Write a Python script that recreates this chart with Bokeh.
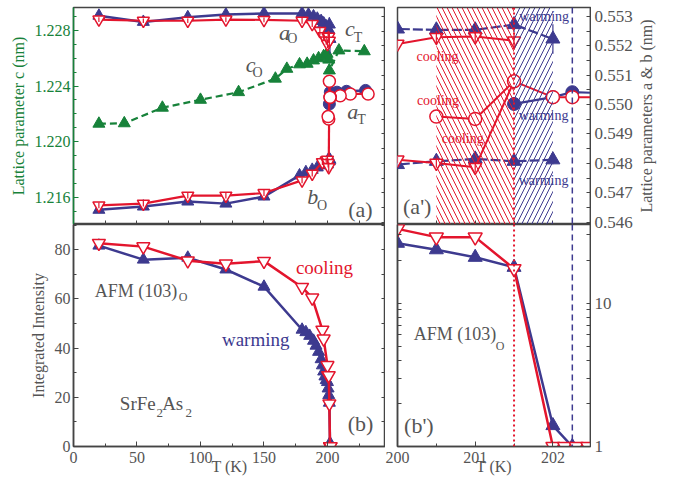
import numpy as np
from bokeh.plotting import figure
from bokeh.layouts import column, row
from bokeh.models import (Range1d, LinearAxis, LogAxis, FixedTicker, PrintfTickFormatter,
                          CustomJSTickFormatter, Label, Span, BoxAnnotation)
from bokeh.embed import file_html
from bokeh.resources import INLINE

FONT = "Liberation Serif"
BLUE = "#3d3a8f"
RED = "#e3152d"
GREEN = "#17823a"
GRAY = "#555555"
FRAME = "#444444"

# ---------------- data: lattice parameters ----------------
# c axis (green, warming)
T_c = [20, 40, 70, 100, 130, 159, 168, 178, 184, 189, 193, 197, 199.7, 201, 201.5, 209, 229]
c_val = [1.22129, 1.22132, 1.22244, 1.22301, 1.22356, 1.22453, 1.22524, 1.22556, 1.22560,
         1.22584, 1.22600, 1.22615, 1.22632, 1.22590, 1.22512, 1.22656, 1.22650]

# a_O warming (blue)
T_aO_w = [20, 55, 90, 120, 150, 180, 185, 189, 192, 195, 197, 199, 200, 200.5, 201, 201.5, 202]
aO_w = [0.55302, 0.55281, 0.55297, 0.55306, 0.55310, 0.55310, 0.55306, 0.55300, 0.55292,
        0.55284, 0.55276, 0.55266, 0.55257, 0.55254, 0.55254, 0.55272, 0.55223]
aO_w_err = [0.00008, 0.00008, 0.00008, 0.00008, 0.00008, 0.0002, 0.0002, 0.0002, 0.0002,
            0.0002, 0.0002, 0.0002, 0.00012, 0.00015, 0.0002, 0.00025, 0.0005]
# a_O cooling (red)
T_aO_c = [20, 55, 90, 120, 150, 180, 188, 194, 197, 199, 200, 200.5, 201, 201.5]
aO_c = [0.55289, 0.55285, 0.55285, 0.55289, 0.55288, 0.55285, 0.55274, 0.55250, 0.55232,
        0.55218, 0.55206, 0.55229, 0.55231, 0.55217]
aO_c_err = [0.00008, 0.00008, 0.00008, 0.00008, 0.00008, 0.0001, 0.0001, 0.00015, 0.00015,
            0.00015, 0.00015, 0.0002, 0.0002, 0.00028]
# b_O warming (blue)
T_bO_w = [20, 55, 90, 120, 150, 178, 183, 188, 192, 196, 199, 200, 200.5, 201, 201.5, 202]
bO_w = [0.54642, 0.54653, 0.54670, 0.54663, 0.54687, 0.54759, 0.54770, 0.54778, 0.54786,
        0.54793, 0.54796, 0.54796, 0.54807, 0.54815, 0.54807, 0.54812]
bO_w_err = [0.0001] * 11 + [0.0001, 0.00012, 0.00012, 0.00012, 0.00015]
# b_O cooling (red)
T_bO_c = [20, 55, 90, 120, 150, 180, 188, 196, 199, 200, 200.5, 201]
bO_c = [0.54657, 0.54663, 0.54690, 0.54690, 0.54699, 0.54742, 0.54765, 0.54804, 0.54810,
        0.54812, 0.54801, 0.54787]
bO_c_err = [0.0001] * 9 + [0.00012, 0.00015, 0.00018]
# a_T cooling (red open circles), in measuring order (cooling)
T_aT_c = [232, 218, 210, 202.25, 202, 201.5, 201, 200.5]
aT_c = [0.55036, 0.55036, 0.55030, 0.55025, 0.55025, 0.55079, 0.54951, 0.54959]
# a_T warming (blue filled circles)
T_aT_w = [201.5, 202, 202.25, 203, 207.5, 215, 230]
aT_w = [0.55002, 0.55025, 0.55042, 0.55036, 0.55042, 0.55045, 0.55048]

# ---------------- data: AFM (103) integrated intensity ----------------
T_I_w = [20, 55, 90, 120, 150, 180, 183, 186, 189, 191, 193, 195, 196, 197, 198, 199,
         200, 200.5, 201, 201.5, 202, 202.25]
I_w = [81.7, 76.0, 76.8, 72.0, 65.0, 47.5, 46.5, 45.0, 43.0, 41.0, 38.5, 35.5, 33.0, 30.5,
       28.5, 27.0, 26.2, 23.6, 20.9, 17.8, 1.4, 0.0]
T_I_c = [20, 55, 90, 120, 150, 180, 188, 196, 197, 200, 200.5, 201, 201.5, 202, 202.15,
         202.3, 202.45]
I_c = [82.7, 81.3, 75.6, 74.3, 75.4, 64.8, 60.5, 47.4, 43.8, 33.0, 28.9, 28.9, 17.4,
       0.0, 0.0, 0.0, 0.0]

# transition regions / temperatures
hatch_cool = [200.5, 201.5]
hatch_warm = [201.5, 202.0]
Ts_cool = 201.5
Ts_warm = 202.25

# tick labels
c_ticks = [1.216, 1.220, 1.224, 1.228]
ab_ticks = [0.546, 0.547, 0.548, 0.549, 0.550, 0.551, 0.552, 0.553]
I_ticks = [0, 20, 40, 60, 80]
T_ticks = [0, 50, 100, 150, 200]
T2_ticks = [200, 201, 202]
log_ticks = [1, 10]


# ---------------- helpers ----------------
def make_fig(w, h, xr, yr, ml, mr, mt, mb, y_type="linear", y_loc="left"):
    p = figure(width=w, height=h, x_range=xr, y_range=yr, y_axis_type=y_type,
               y_axis_location=y_loc, output_backend="svg", toolbar_location=None,
               min_border_left=ml, min_border_right=mr, min_border_top=mt, min_border_bottom=mb)
    p.grid.visible = False
    p.outline_line_color = FRAME
    p.outline_line_width = 1.5
    p.border_fill_color = "white"
    p.background_fill_color = "white"
    return p


def style_axis(ax, ticker, formatter=None, color=GRAY, line_color=FRAME, size="16px"):
    ax.ticker = ticker
    if formatter is not None:
        ax.formatter = formatter
    ax.major_tick_in = 5
    ax.major_tick_out = 0
    ax.minor_tick_in = 3
    ax.minor_tick_out = 0
    ax.axis_line_color = line_color
    ax.axis_line_width = 1.5
    ax.major_tick_line_color = line_color
    ax.minor_tick_line_color = line_color
    ax.major_label_text_font = FONT
    ax.major_label_text_font_size = size
    ax.major_label_text_color = color
    ax.axis_label_text_font = FONT
    ax.axis_label_text_font_style = "normal"
    ax.axis_label_text_font_size = size
    ax.axis_label_text_color = color
    ax.major_label_standoff = 3
    ax.axis_label_standoff = 5


def tick_only_axis(ax, minor_positions, line_width=1.5):
    """Mirror axis: inward ticks only, no texts."""
    style_axis(ax, FixedTicker(ticks=[], minor_ticks=list(minor_positions)))
    ax.minor_tick_in = 4
    ax.axis_line_width = line_width
    ax.major_label_standoff = 0
    ax.axis_label_standoff = 0


def errbars(p, x, y, e, color, **kw):
    x = np.asarray(x, float)
    y = np.asarray(y, float)
    e = np.asarray(e, float)
    p.segment(x0=x, y0=y - e, x1=x, y1=y + e, line_color=color, line_width=1.2, **kw)


def lab(p, x, y, text, size, color=GRAY, style="normal", align="center", **kw):
    p.add_layout(Label(x=x, y=y, text=text, text_font=FONT, text_font_size=size,
                       text_color=color, text_font_style=style, text_align=align,
                       text_baseline="middle", **kw))


def tri_blue(p, x, y, size=12, **kw):
    p.scatter(x, y, marker="triangle", size=size, fill_color=BLUE, line_color=BLUE, **kw)


def tri_red(p, x, y, size=12, **kw):
    p.scatter(x, y, marker="inverted_triangle", size=size, fill_color="white",
              line_color=RED, line_width=1.5, **kw)


# ---------------- geometry / ranges ----------------
x_left = Range1d(0, 245.7)
x_right = Range1d(200, 202.484)
c_range = Range1d(1.21404, 1.22965)
ab_lo, ab_hi = 0.54592, 0.55330
I_range = Range1d(0, 90.3)
log_lo, log_hi = 1.0, 35.4
Ilog_range = Range1d(log_lo, log_hi)

TOP_B, H_TOPF, H_BOTF, BOT_B = 7, 217, 222, 35
W_L, W_R, W_TICK, W_TITLE = 385, 206, 43, 24
H_T = TOP_B + H_TOPF
H_B = H_BOTF + BOT_B
H_ALL = H_T + H_B

ab_units_per_px = (ab_hi - ab_lo) / H_TOPF
strip_hi = ab_hi
strip_lo = ab_hi - (H_TOPF + H_BOTF) * ab_units_per_px


def log_to_strip(v):
    frac = (np.log10(v) - np.log10(log_lo)) / (np.log10(log_hi) - np.log10(log_lo))
    return float(strip_lo + frac * (ab_lo - strip_lo))


# ---------------- (a) top-left ----------------
pa = make_fig(W_L, H_T, x_left, c_range, 73, 0, TOP_B, 0)
pa.extra_y_ranges = {"ab": Range1d(ab_lo, ab_hi)}
style_axis(pa.yaxis[0], FixedTicker(ticks=c_ticks, minor_ticks=list(np.arange(1.214, 1.2297, 0.001))),
           PrintfTickFormatter(format="%.3f"), color=GREEN, line_color=GREEN)
pa.yaxis[0].axis_label = "Lattice parameter c (nm)"
tick_only_axis(pa.xaxis[0], np.arange(0, 250, 25))
ax_r = LinearAxis(y_range_name="ab")
tick_only_axis(ax_r, np.arange(0.546, 0.5534, 0.0005), line_width=3)
pa.add_layout(ax_r, "right")

pa.line(T_c, c_val, line_color=GREEN, line_width=2.2, line_dash="7 4")
pa.scatter(T_c, c_val, marker="triangle", size=12, fill_color=GREEN, line_color=GREEN)

for (T, v, e) in [(T_aO_w, aO_w, aO_w_err), (T_bO_w, bO_w, bO_w_err)]:
    pa.line(T, v, line_color=BLUE, line_width=2.5, y_range_name="ab")
    errbars(pa, T, v, e, BLUE, y_range_name="ab")
    tri_blue(pa, T, v, y_range_name="ab")
pa.line(T_aT_w, aT_w, line_color=BLUE, line_width=2.5, y_range_name="ab")
pa.scatter(T_aT_w, aT_w, marker="circle", size=12, fill_color=BLUE, line_color=BLUE, y_range_name="ab")

pa.line(T_aT_c, aT_c, line_color=RED, line_width=2.2, y_range_name="ab")
pa.line([T_bO_c[-1], T_aT_c[5]], [bO_c[-1], aT_c[5]], line_color=RED, line_width=2.2, y_range_name="ab")
pa.scatter(T_aT_c, aT_c, marker="circle", size=12, fill_color="white", line_color=RED,
           line_width=1.5, y_range_name="ab")
for (T, v, e) in [(T_aO_c, aO_c, aO_c_err), (T_bO_c, bO_c, bO_c_err)]:
    pa.line(T, v, line_color=RED, line_width=2.2, y_range_name="ab")
    tri_red(pa, T, v, y_range_name="ab")
    errbars(pa, T, v, e, RED, y_range_name="ab")

lab(pa, 166.1, 1.22785, "a", "22px", style="italic")
lab(pa, 172.4, 1.22740, "O", "14px")
lab(pa, 217.6, 1.22812, "c", "22px", style="italic")
lab(pa, 224.0, 1.22752, "T", "14px")
lab(pa, 139.4, 1.22557, "c", "22px", style="italic")
lab(pa, 144.9, 1.22498, "O", "14px")
lab(pa, 219.9, 1.22215, "a", "22px", style="italic")
lab(pa, 226.8, 1.22162, "T", "14px")
lab(pa, 188.4, 1.21603, "b", "22px", style="italic")
lab(pa, 195.8, 1.21539, "O", "14px")
lab(pa, 226.0, 1.21510, "(a)", "22px")

# ---------------- (a') top-right ----------------
pa2 = make_fig(W_R, H_T, x_right, Range1d(ab_lo, ab_hi), 12, 1, TOP_B, 0, y_loc="right")
tick_only_axis(pa2.yaxis[0], np.arange(0.546, 0.5534, 0.0005))
tick_only_axis(pa2.xaxis[0], np.arange(200, 202.5, 0.5))

pa2.add_layout(BoxAnnotation(left=hatch_cool[0], right=hatch_cool[1], fill_alpha=0, line_alpha=0,
                             hatch_pattern="\\", hatch_color=RED, hatch_scale=10, hatch_weight=1))
pa2.add_layout(BoxAnnotation(left=hatch_warm[0], right=hatch_warm[1], fill_alpha=0, line_alpha=0,
                             hatch_pattern="/", hatch_color=BLUE, hatch_scale=10, hatch_weight=1))
pa2.add_layout(Span(location=Ts_cool, dimension="height", line_color=RED, line_dash="2 3", line_width=2))
pa2.add_layout(Span(location=Ts_warm, dimension="height", line_color=BLUE, line_dash="6 4", line_width=1.5))

for (T, v, e) in [(T_aO_w, aO_w, aO_w_err), (T_bO_w, bO_w, bO_w_err)]:
    pa2.line(T, v, line_color=BLUE, line_width=2.2, line_dash="10 3")
    errbars(pa2, T, v, e, BLUE)
    tri_blue(pa2, T, v, size=14)
pa2.line(T_aT_w, aT_w, line_color=BLUE, line_width=2.2)
pa2.scatter(T_aT_w, aT_w, marker="circle", size=13, fill_color=BLUE, line_color=BLUE)
pa2.line(T_aT_c, aT_c, line_color=RED, line_width=2)
pa2.line([T_bO_c[-1], T_aT_c[5]], [bO_c[-1], aT_c[5]], line_color=RED, line_width=2)
pa2.scatter(T_aT_c, aT_c, marker="circle", size=13, fill_color="white", line_color=RED, line_width=1.5)
for (T, v, e) in [(T_aO_c, aO_c, aO_c_err), (T_bO_c, bO_c, bO_c_err)]:
    pa2.line(T, v, line_color=RED, line_width=2)
    tri_red(pa2, T, v, size=13)
    errbars(pa2, T, v, e, RED)

lab(pa2, 201.888, 0.55301, "warming", "14px", color=BLUE)
lab(pa2, 200.516, 0.55165, "cooling", "14px", color=RED)
lab(pa2, 200.52, 0.55013, "cooling", "14px", color=RED)
lab(pa2, 201.88, 0.54962, "warming", "14px", color=BLUE)
lab(pa2, 200.839, 0.54883, "cooling", "14px", color=RED)
lab(pa2, 201.88, 0.54742, "warming", "14px", color=BLUE)
lab(pa2, 200.254, 0.54653, "(a')", "22px")

# ---------------- (b) bottom-left ----------------
pb = make_fig(W_L, H_B, x_left, I_range, 73, 0, 0, BOT_B)
style_axis(pb.yaxis[0], FixedTicker(ticks=I_ticks, minor_ticks=list(np.arange(0, 91, 10))),
           PrintfTickFormatter(format="%d"))
pb.yaxis[0].axis_label = "Integrated Intensity"
style_axis(pb.xaxis[0], FixedTicker(ticks=T_ticks, minor_ticks=list(np.arange(0, 250, 25))),
           PrintfTickFormatter(format="%d"))
pb.xaxis[0].axis_label = "T (K)"
pb.xaxis[0].major_label_standoff = 5
pb.xaxis[0].axis_label_standoff = -8
ax_br = LinearAxis()
tick_only_axis(ax_br, np.arange(0, 91, 10), line_width=3)
pb.add_layout(ax_br, "right")

pb.line(T_I_w, I_w, line_color=BLUE, line_width=2.5)
tri_blue(pb, T_I_w, I_w, size=12)
pb.line(T_I_c, I_c, line_color=RED, line_width=2.5)
tri_red(pb, T_I_c, I_c, size=13)

lab(pb, 197.6, 72.9, "cooling", "19px", color=RED)
lab(pb, 143.5, 43.4, "warming", "19px", color=BLUE)
lab(pb, 16.8, 63.4, "AFM (103)", "18px", align="left")
lab(pb, 82.9, 61.0, "O", "12px", align="left")
lab(pb, 36.5, 17.6, "SrFe", "19px", align="left")
lab(pb, 65.4, 13.8, "2", "13px", align="left")
lab(pb, 69.8, 17.6, "As", "19px", align="left")
lab(pb, 88.2, 13.8, "2", "13px", align="left")
lab(pb, 226.0, 9.2, "(b)", "22px")

# ---------------- (b') bottom-right (log) ----------------
pb2 = make_fig(W_R, H_B, x_right, Ilog_range, 12, 1, 0, BOT_B, y_type="log", y_loc="right")
log_minor = [k * 10 ** d for d in (0, 1) for k in range(1, 10)]
tick_only_axis(pb2.yaxis[0], log_minor)
style_axis(pb2.xaxis[0], FixedTicker(ticks=T2_ticks, minor_ticks=list(np.arange(200, 202.5, 0.5))),
           PrintfTickFormatter(format="%d"))
pb2.xaxis[0].axis_label = "T (K)"
pb2.xaxis[0].major_label_standoff = 5
pb2.xaxis[0].axis_label_standoff = -8
ax_bl = LogAxis()
tick_only_axis(ax_bl, log_minor)
pb2.add_layout(ax_bl, "left")

pb2.add_layout(Span(location=Ts_cool, dimension="height", line_color=RED, line_dash="2 3", line_width=2))
pb2.add_layout(Span(location=Ts_warm, dimension="height", line_color=BLUE, line_dash="6 4", line_width=1.5))

Iw_log = np.maximum(np.asarray(I_w), 1.0)
Ic_log = np.maximum(np.asarray(I_c), 1.0)
pb2.line(T_I_w, Iw_log, line_color=BLUE, line_width=2.5)
tri_blue(pb2, T_I_w, Iw_log, size=14)
pb2.line(T_I_c, Ic_log, line_color=RED, line_width=2.5)
tri_red(pb2, T_I_c, Ic_log, size=14)

lab(pb2, 200.21, 6.12, "AFM (103)", "18px", align="left")
lab(pb2, 201.265, 5.0, "O", "12px", align="left")
lab(pb2, 200.275, 1.402, "(b')", "22px")

# ---------------- shared right-hand tick labels (a & b scale above, log scale below) ----------------
ps = figure(width=W_TICK, height=H_ALL, x_range=Range1d(0, 1), y_range=Range1d(strip_lo, strip_hi),
            x_axis_location=None, y_axis_location="right", output_backend="svg",
            toolbar_location=None, min_border_left=0, min_border_right=W_TICK - 1,
            min_border_top=TOP_B, min_border_bottom=BOT_B)
ps.grid.visible = False
ps.outline_line_color = None
strip_ticks = list(ab_ticks) + [log_to_strip(v) for v in log_ticks]
style_axis(ps.yaxis[0], FixedTicker(ticks=strip_ticks, minor_ticks=[]),
           CustomJSTickFormatter(args=dict(ab_lo=ab_lo, s_lo=strip_lo, L=float(np.log10(log_hi / log_lo)),
                                           v0=log_lo),
                                 code="""
if (tick >= ab_lo) { return tick.toFixed(3); }
const frac = (tick - s_lo) / (ab_lo - s_lo);
return String(Math.round(v0 * Math.pow(10, frac * L)));
"""), size="17px")
ps.yaxis[0].axis_line_color = None
ps.yaxis[0].major_tick_in = 0
ps.yaxis[0].major_label_standoff = 3

# ---------------- right-hand axis title (reads bottom-to-top) ----------------
pt = figure(width=W_TITLE, height=H_ALL, x_range=Range1d(0, 1), y_range=Range1d(0, 1),
            x_axis_location=None, y_axis_location="left", output_backend="svg",
            toolbar_location=None, min_border_left=W_TITLE - 1, min_border_right=0,
            min_border_top=TOP_B, min_border_bottom=H_B)
pt.grid.visible = False
pt.outline_line_color = None
style_axis(pt.yaxis[0], FixedTicker(ticks=[], minor_ticks=[]))
pt.yaxis[0].axis_line_color = None
pt.yaxis[0].major_label_standoff = 0
pt.yaxis[0].axis_label_standoff = 3
pt.yaxis[0].axis_label = "Lattice parameters a & b (nm)"

layout = row(column(pa, pb), column(pa2, pb2), column(ps), column(pt))
open("out.html", "w").write(file_html(layout, INLINE))
